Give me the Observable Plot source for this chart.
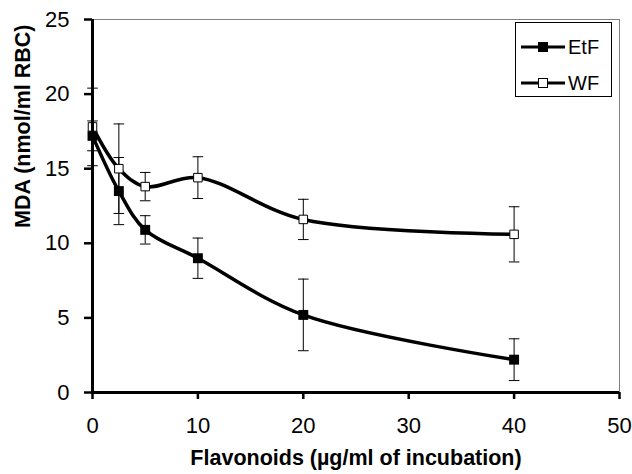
<!DOCTYPE html>
<html>
<head>
<meta charset="utf-8">
<script src="https://cdn.jsdelivr.net/npm/d3@7"></script>
<script src="https://cdn.jsdelivr.net/npm/@observablehq/plot@0.6"></script>
<style>
  html, body { margin: 0; padding: 0; background: #fff; }
  #wrap { position: relative; width: 632px; height: 474px; font-family: Arial, "Liberation Sans", sans-serif; }
  #legend { position: absolute; left: 515px; top: 22px; width: 97px; height: 75px; border: 1px solid #000; background: #fff; box-sizing: border-box; }
  .row { position: absolute; left: 5px; height: 24px; display: flex; align-items: center; font-size: 20px; line-height: 24px; }
  .row svg { margin-right: 3px; }
</style>
</head>
<body>
<div id="wrap"></div>
<script>
const conc = [0, 2.5, 5, 10, 20, 40];
const etfMean = [17.2, 13.5, 10.9, 9.0, 5.2, 2.2];
const etfErr = [1.0, 2.25, 0.95, 1.35, 2.4, 1.4];
const wfMean = [17.8, 15.0, 13.8, 14.4, 11.6, 10.6];
const wfErr = [2.6, 3.0, 0.95, 1.4, 1.35, 1.85];
const seriesNames = ["EtF", "WF"];
const xTicks = [0, 10, 20, 30, 40, 50];
const yTicks = [0, 5, 10, 15, 20, 25];
const xLabel = "Flavonoids (\u00b5g/ml of incubation)";
const yLabel = "MDA (nmol/ml RBC)";

const etf = conc.map((c, i) => ({x: c, y: etfMean[i], lo: etfMean[i] - etfErr[i], hi: etfMean[i] + etfErr[i]}));
const wf = conc.map((c, i) => ({x: c, y: wfMean[i], lo: wfMean[i] - wfErr[i], hi: wfMean[i] + wfErr[i]}));
const all = etf.concat(wf);

const capSymbol = {
  draw(context, size) {
    const r = Math.sqrt(size / Math.PI);
    context.moveTo(-r, 0);
    context.lineTo(r, 0);
  }
};

const chart = Plot.plot({
  width: 632,
  height: 474,
  marginLeft: 92,
  marginRight: 13,
  marginTop: 19,
  marginBottom: 82,
  style: {fontFamily: "Arial, 'Liberation Sans', sans-serif", background: "#fff", color: "#000"},
  x: {domain: [0, 50]},
  y: {domain: [0, 25]},
  marks: [
    Plot.frame({stroke: "#808080", strokeWidth: 1}),
    Plot.ruleX(all, {x: "x", y1: "lo", y2: "hi", stroke: "#000", strokeWidth: 1}),
    Plot.dot(all, {x: "x", y: "lo", symbol: capSymbol, r: 5.3, stroke: "#000", strokeWidth: 1, fill: "none"}),
    Plot.dot(all, {x: "x", y: "hi", symbol: capSymbol, r: 5.3, stroke: "#000", strokeWidth: 1, fill: "none"}),
    Plot.line(etf, {x: "x", y: "y", curve: "catmull-rom", stroke: "#000", strokeWidth: 3.5}),
    Plot.line(wf, {x: "x", y: "y", curve: "catmull-rom", stroke: "#000", strokeWidth: 3.5}),
    Plot.dot(etf, {x: "x", y: "y", symbol: "square", r: 5.6, fill: "#000", stroke: "none"}),
    Plot.dot(wf, {x: "x", y: "y", symbol: "square", r: 4.8, fill: "#fff", stroke: "#000", strokeWidth: 1}),
    Plot.axisY(yTicks, {tickSize: 8, tickPadding: 15, strokeWidth: 2.5, fontSize: 22, label: null}),
    Plot.axisX(xTicks, {tickSize: 7, tickPadding: 18, strokeWidth: 2.5, fontSize: 22, label: null}),
    Plot.ruleX([0], {stroke: "#000", strokeWidth: 3}),
    Plot.ruleY([0], {stroke: "#000", strokeWidth: 3}),
    Plot.text([xLabel], {frameAnchor: "bottom", dy: 72, fontSize: 21.5, fontWeight: "bold", text: d => d}),
    Plot.text([yLabel], {frameAnchor: "left", dx: -69, dy: 22, rotate: -90, fontSize: 21.5, fontWeight: "bold", text: d => d})
  ]
});

const wrap = document.getElementById("wrap");
wrap.appendChild(chart);

const legend = document.createElement("div");
legend.id = "legend";
seriesNames.forEach((name, i) => {
  const row = document.createElement("div");
  row.className = "row";
  row.style.top = (i === 0 ? 12 : 48) + "px";
  const filled = i === 0;
  row.innerHTML = `<svg width="44" height="12"><line x1="0" y1="6" x2="44" y2="6" stroke="#000" stroke-width="3"/>` +
    (filled ? `<rect x="17" y="1" width="10" height="10" fill="#000"/>` :
              `<rect x="17.5" y="1.5" width="9" height="9" fill="#fff" stroke="#000" stroke-width="1"/>`) +
    `</svg><span>${name}</span>`;
  legend.appendChild(row);
});
wrap.appendChild(legend);
</script>
</body>
</html>
